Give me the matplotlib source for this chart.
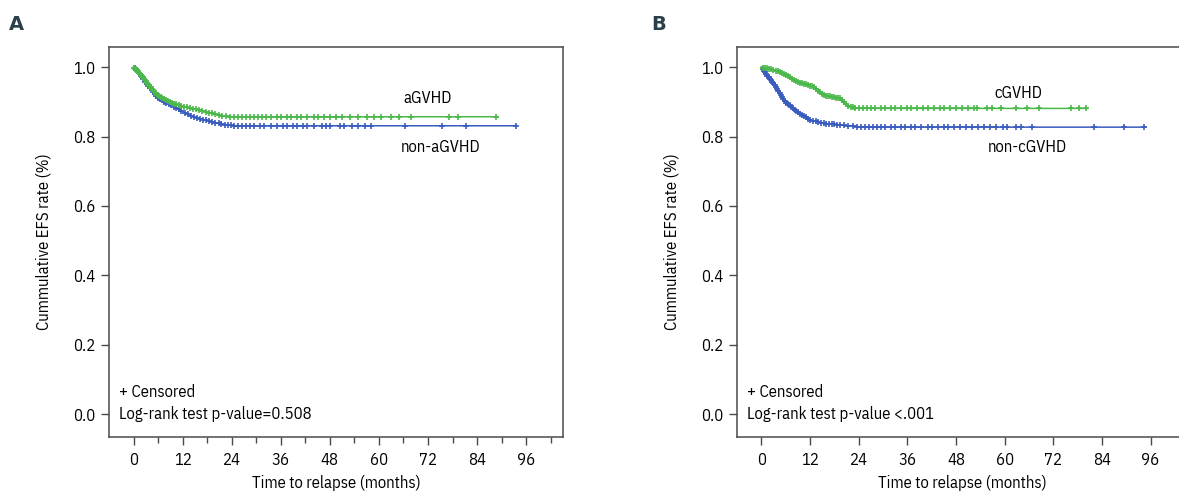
import numpy as np
import matplotlib
matplotlib.use('Agg')
import matplotlib.pyplot as plt

plt.rcParams['font.family'] = ['IBM Plex Sans Condensed', 'Liberation Sans Narrow', 'DejaVu Sans']

# ---- Panel A: aGVHD vs non-aGVHD ----
a_grp_t = [0, 1, 2, 3, 4, 5, 6, 8, 10, 12, 14, 16, 18, 20, 22, 24, 89]
a_grp_s = [1.0, 0.99, 0.975, 0.96, 0.945, 0.93, 0.918, 0.905, 0.895, 0.887, 0.882, 0.876, 0.87, 0.864, 0.859, 0.857, 0.857]
a_non_t = [0, 1, 2, 3, 4, 5, 6, 8, 10, 12, 14, 16, 18, 20, 22, 25, 93.5]
a_non_s = [1.0, 0.988, 0.972, 0.955, 0.94, 0.925, 0.912, 0.897, 0.885, 0.872, 0.86, 0.852, 0.846, 0.84, 0.835, 0.831, 0.831]
a_grp_cens = [0.2, 0.4, 0.6, 0.8, 1.0, 1.2, 1.4, 1.6, 1.8, 2.0, 2.2, 2.4, 2.6, 2.8, 3.0, 3.3, 3.6,
              3.9, 4.2, 4.5, 4.8, 5.1, 5.4, 5.8, 6.2, 6.6, 7.0, 7.5, 8.0, 8.5, 9.0, 9.5, 10.0, 10.5,
              11.0, 11.7, 12.4, 13.1, 13.8, 14.5, 15.2, 16.0, 16.8, 17.6, 18.4, 19.2, 20.0, 20.8,
              21.6, 22.5, 23.5, 24.5, 25.5, 26.5, 27.5, 28.5, 29.5, 30.5, 31.5, 32.5, 33.5, 35.0,
              36.0, 37.5, 38.5, 40.0, 41.0, 42.5, 44.0, 45.0, 46.5, 48.0, 49.5, 51.0, 53.0, 55.0,
              57.0, 58.9, 60.5, 62.9, 65.0, 67.8, 77.2, 79.3, 88.7]
a_non_cens = [0.3, 0.6, 0.9, 1.2, 1.5, 1.8, 2.1, 2.4, 2.8, 3.2, 3.6, 4.0, 4.4, 4.8, 5.2, 5.6, 6.0,
              6.5, 7.0, 7.5, 8.0, 8.6, 9.2, 9.8, 10.4, 11.0, 11.7, 12.5, 13.2, 14.0, 14.8, 15.5,
              16.3, 17.0, 17.8, 18.5, 19.3, 20.0, 20.8, 21.5, 22.3, 23.0, 23.8, 24.5, 25.5, 26.5,
              27.5, 28.5, 29.5, 31.0, 32.0, 33.5, 35.0, 36.5, 37.5, 39.0, 40.0, 41.5, 42.5, 44.0,
              46.0, 47.0, 48.0, 50.5, 51.5, 53.5, 55.0, 56.5, 58.0, 66.4, 75.4, 81.3, 93.6]

# ---- Panel B: cGVHD vs non-cGVHD ----
b_grp_t = [0, 2, 4.7, 8.8, 12.9, 15.4, 19.5, 21.2, 23.2, 80.4]
b_grp_s = [1.0, 0.995, 0.986, 0.958, 0.943, 0.919, 0.91, 0.89, 0.881, 0.881]
b_non_t = [0, 1.5, 3.0, 5.5, 8.8, 12.1, 15.4, 19.5, 25.3, 94.8]
b_non_s = [1.0, 0.975, 0.953, 0.905, 0.871, 0.847, 0.838, 0.833, 0.827, 0.827]
b_grp_cens = [0.5, 1.0, 1.5, 2.0, 2.5, 3.0, 3.5, 4.0, 4.5, 5.0, 5.5, 6.0, 6.5, 7.0, 7.5, 8.0, 8.5,
              9.0, 9.5, 10.0, 10.5, 11.0, 11.5, 12.0, 12.5, 13.0, 13.5, 14.0, 14.5, 15.0, 15.5,
              16.0, 16.5, 17.0, 17.5, 18.0, 18.5, 19.0, 19.5, 20.0, 20.5, 21.0, 21.5, 22.0, 22.5,
              23.2, 24.0, 25.0, 26.0, 27.0, 28.0, 29.5, 30.5, 32.0, 33.0, 34.5, 36.0, 37.0, 38.5,
              40.0, 41.0, 42.5, 44.0, 45.0, 46.5, 48.0, 49.5, 51.0, 52.5, 53.3, 55.7, 56.9, 59.0,
              62.7, 65.6, 68.5, 76.3, 78.4, 80.2]
b_non_cens = [0.3, 0.6, 0.9, 1.2, 1.5, 1.8, 2.1, 2.4, 2.7, 3.0, 3.3, 3.6, 3.9, 4.2, 4.5, 4.8, 5.1,
              5.4, 5.8, 6.2, 6.6, 7.0, 7.4, 7.8, 8.2, 8.6, 9.0, 9.5, 10.0, 10.5, 11.0, 11.5, 12.0,
              12.7, 13.4, 14.0, 14.7, 15.4, 16.0, 16.7, 17.4, 18.0, 18.7, 19.5, 20.5, 21.5, 22.5,
              23.5, 24.5, 25.5, 26.5, 27.5, 28.5, 29.5, 30.5, 32.0, 33.0, 34.5, 35.5, 37.0, 38.0,
              39.5, 41.0, 42.0, 43.5, 45.0, 46.0, 47.5, 49.0, 50.5, 52.0, 53.5, 55.0, 56.5, 58.0,
              59.5, 60.6, 62.7, 64.0, 66.8, 82.0, 89.4, 94.4]

blue = '#3a5cbf'
green = '#4cb84c'
spine_col = '#4a4a4a'
fs = 12

fig = plt.figure(figsize=(11.79, 4.95), dpi=100)
ax1 = fig.add_axes([109/1179, 58/495, 454/1179, 390/495])
ax2 = fig.add_axes([737/1179, 58/495, 450/1179, 390/495])


def km(ax, t, s, cens, col):
    ax.plot(t, s, color=col, lw=1.1, zorder=3)
    ax.plot(cens, np.interp(cens, t, s), ls='none', marker='+', ms=5, mew=1.2,
            color=col, zorder=3)


km(ax1, a_non_t, a_non_s, a_non_cens, blue)
km(ax1, a_grp_t, a_grp_s, a_grp_cens, green)
km(ax2, b_non_t, b_non_s, b_non_cens, blue)
km(ax2, b_grp_t, b_grp_s, b_grp_cens, green)

for ax in (ax1, ax2):
    ax.set_xlim(-6, 105)
    ax.set_ylim(-0.066, 1.058)
    ax.set_xticks(range(0, 97, 12))
    ax.set_yticks([0.0, 0.2, 0.4, 0.6, 0.8, 1.0])
    ax.set_yticklabels(['0.0', '0.2', '0.4', '0.6', '0.8', '1.0'])
    ax.tick_params(axis='both', direction='out', length=6, width=1, color=spine_col,
                   labelsize=fs)
    ax.tick_params(axis='x', pad=5)
    ax.tick_params(axis='y', pad=4)
    for sp in ax.spines.values():
        sp.set_color(spine_col)
        sp.set_linewidth(1.1)
    ax.set_xlabel('Time to relapse (months)', fontsize=fs, labelpad=5)
    ax.set_ylabel('Cummulative EFS rate (%)', fontsize=fs, labelpad=15)

ax1.set_xticks(range(6, 103, 12), minor=True)
ax1.tick_params(axis='x', which='minor', direction='out', length=4, width=1, color=spine_col)

ax1.text(72, 0.911, 'aGVHD', fontsize=fs, ha='center', va='center')
ax1.text(75, 0.77, 'non-aGVHD', fontsize=fs, ha='center', va='center')
ax1.text(-3.5, 0.063, '+ Censored', fontsize=fs, va='center')
ax1.text(-3.5, 0.0, 'Log-rank test p-value=0.508', fontsize=fs, va='center')

ax2.text(63.5, 0.925, 'cGVHD', fontsize=fs, ha='center', va='center')
ax2.text(65.7, 0.77, 'non-cGVHD', fontsize=fs, ha='center', va='center')
ax2.text(-3.5, 0.063, '+ Censored', fontsize=fs, va='center')
ax2.text(-3.5, 0.0, 'Log-rank test p-value <.001', fontsize=fs, va='center')

fig.text(16/1179, 1 - 25/495, 'A', fontsize=14, fontweight='bold', color='#2b3f4a',
         va='center', ha='center', family=['DejaVu Sans'])
fig.text(659/1179, 1 - 25/495, 'B', fontsize=14, fontweight='bold', color='#2b3f4a',
         va='center', ha='center', family=['DejaVu Sans'])

fig.savefig('out.png', dpi=100)
